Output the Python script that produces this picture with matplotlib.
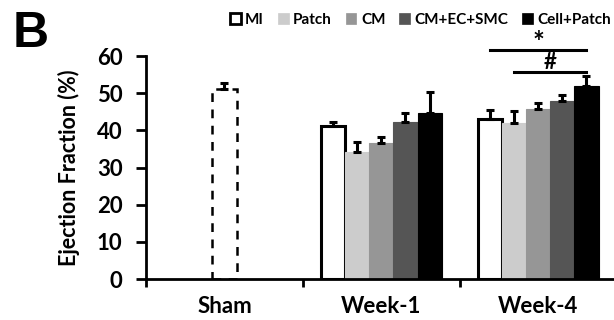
import matplotlib
matplotlib.use("Agg")
import matplotlib.pyplot as plt
from matplotlib.patches import Patch

# data
groups = ["Sham", "Week-1", "Week-4"]
series = ["MI", "Patch", "CM", "CM+EC+SMC", "Cell+Patch"]
colors = ["white", "#cccccc", "#969696", "#555555", "black"]
sham_ef = 51.1
sham_err = 1.6
week1_ef = [41.2, 34.3, 36.7, 42.2, 44.8]
week1_err = [1.1, 2.6, 1.6, 2.4, 5.5]
week4_ef = [43.0, 42.1, 45.7, 47.9, 51.9]
week4_err = [2.5, 3.2, 1.7, 1.7, 2.7]
yticks = [0, 10, 20, 30, 40, 50, 60]

plt.rcParams["font.family"] = ["Lato", "DejaVu Sans"]
plt.rcParams["font.weight"] = "bold"

fig = plt.figure(figsize=(6.14, 3.2), dpi=100)
ax = fig.add_axes([0.2378, 0.128, 0.767, 0.697])

w = 0.153
offs = [(i - 2) * w for i in range(5)]
err_kw = dict(fmt="none", ecolor="black", elinewidth=2.2, capsize=3, capthick=2.2)

# sham (dashed outline)
ax.bar(0, sham_ef, w, facecolor="none", edgecolor="black", linestyle=(0, (3.5, 3)),
       linewidth=1.8, zorder=2)
ax.errorbar(0, sham_ef, yerr=[[0], [sham_err]], **err_kw, zorder=3)

for gx, vals, errs in [(1, week1_ef, week1_err), (2, week4_ef, week4_err)]:
    for i in range(5):
        ec = "black" if i == 0 else colors[i]
        lw = 2.2 if i == 0 else 0.8
        ax.bar(gx + offs[i], vals[i], w, color=colors[i], edgecolor=ec, linewidth=lw, zorder=2)
        ax.errorbar(gx + offs[i], vals[i], yerr=[[0], [errs[i]]], **err_kw, zorder=3)

# significance marks on week-4
ax.plot([2 + offs[0], 2 + offs[4]], [61.5, 61.5], color="black", lw=2.2, clip_on=False)
ax.text(2 + (offs[0] + offs[4]) / 2, 63.6, "*", ha="center", va="center", fontsize=20, fontweight="bold")
ax.plot([2 + offs[1], 2 + offs[4]], [55.7, 55.7], color="black", lw=2.2, clip_on=False)
ax.text(2 + (offs[1] + offs[4]) / 2, 58.3, "#", ha="center", va="center", fontsize=16, fontweight="bold")

ax.set_xlim(-0.5, 2.5)
ax.set_ylim(0, 60)
ax.set_yticks(yticks)
ax.set_yticklabels([str(v) for v in yticks], fontsize=16, fontweight="bold")
ax.set_xticks([-0.5, 0.5, 1.5, 2.5])
ax.set_xticklabels([])
ax.set_xticks([0, 1, 2], minor=True)
ax.set_xticklabels(groups, minor=True, fontsize=16, fontweight="bold")
ax.tick_params(axis="x", which="minor", length=0, pad=12)
ax.tick_params(axis="x", which="major", length=6, width=2, direction="out")
ax.tick_params(axis="y", length=7, width=2, direction="out", pad=10)
for s in ["top", "right"]:
    ax.spines[s].set_visible(False)
for s in ["left", "bottom"]:
    ax.spines[s].set_linewidth(2)
ax.set_ylabel("Ejection Fraction (%)", fontsize=15.5, fontweight="bold", labelpad=12)

handles = [Patch(facecolor=colors[i], edgecolor="black" if i == 0 else colors[i],
                 linewidth=2 if i == 0 else 0.5) for i in range(5)]
fig.legend(handles, series, loc="center", bbox_to_anchor=(0.685, 0.938), ncol=5,
           frameon=False, handlelength=0.7, handleheight=0.7,
           handletextpad=0.3, columnspacing=0.9, prop={"weight": "bold", "size": 11})

fig.text(0.02, 0.894, "B", fontsize=36, fontweight="bold", family="Liberation Sans", va="center")

fig.savefig("out.png", dpi=100)
